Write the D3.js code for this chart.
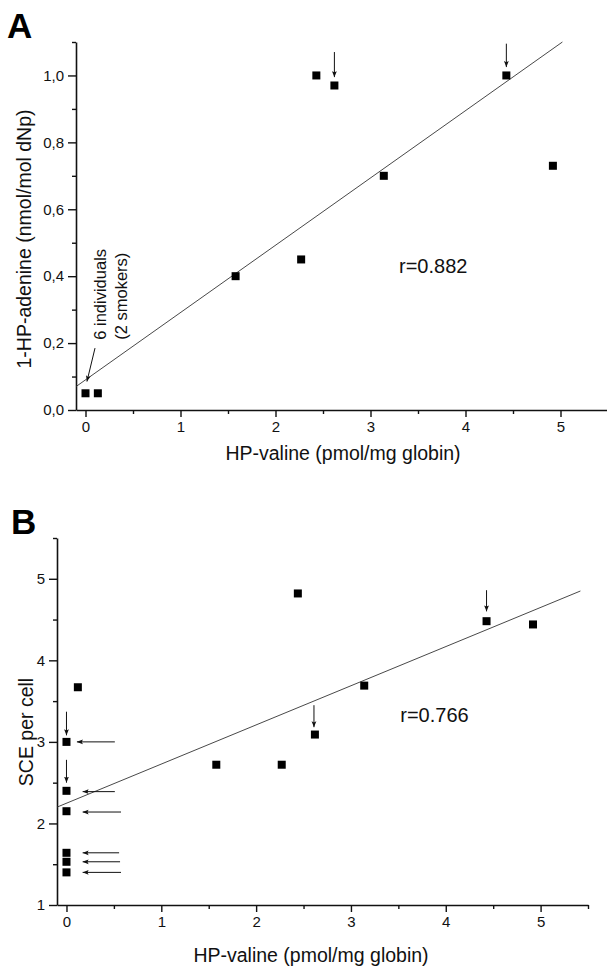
<!DOCTYPE html>
<html>
<head>
<meta charset="utf-8">
<script src="https://cdn.jsdelivr.net/npm/d3@7"></script>
<style>
  html, body { margin: 0; padding: 0; background: #fff; }
  svg { display: block; font-family: "Liberation Sans", Arial, Helvetica, sans-serif; }
</style>
</head>
<body>
<svg id="chart" width="607" height="971"></svg>
<script>
// ---------------- DATA ----------------
// Panel A: HP-valine (pmol/mg globin) vs 1-HP-adenine (nmol/mol dNp)
const hpValineA   = [0.00, 0.13, 1.58, 2.27, 2.43, 2.62, 3.14, 4.43, 4.92];
const hpAdenineA  = [0.05, 0.05, 0.40, 0.45, 1.00, 0.97, 0.70, 1.00, 0.73];
const regressionA = [[-0.1, 0.07], [5.02, 1.10]];   // fitted line end points
const rLabelA = "r=0.882";

// Panel B: HP-valine (pmol/mg globin) vs SCE per cell
const hpValineB = [0.00, 0.00, 0.00, 0.00, 0.00, 0.00, 0.12, 1.58, 2.27, 2.44, 2.62, 3.14, 4.43, 4.92];
const scePerCell = [3.00, 2.40, 2.15, 1.64, 1.53, 1.40, 3.67, 2.72, 2.72, 4.82, 3.09, 3.69, 4.48, 4.44];
const regressionB = [[-0.1, 2.20], [5.42, 4.85]];
const rLabelB = "r=0.766";

// axis ticks
const xTicks = [0, 1, 2, 3, 4, 5];
const xMinorTicks = [0.5, 1.5, 2.5, 3.5, 4.5, 5.5];
const yTicksA = [0.0, 0.2, 0.4, 0.6, 0.8, 1.0];
const yMinorTicksA = [0.1, 0.3, 0.5, 0.7, 0.9, 1.1];
const yTicksB = [1, 2, 3, 4, 5];
const yMinorTicksB = [1.5, 2.5, 3.5, 4.5, 5.5];

// annotation arrows [x1, y1, x2, y2] in data units
const arrowsA = [
  [2.62, 1.07, 2.62, 0.995],
  [4.43, 1.095, 4.43, 1.025],
  [0.10, 0.185, 0.015, 0.085]
];
const arrowsB = [
  [0.00, 3.37, 0.00, 3.08],
  [0.00, 2.78, 0.00, 2.50],
  [2.61, 3.45, 2.61, 3.18],
  [4.43, 4.86, 4.43, 4.60],
  [0.51, 3.00, 0.11, 3.00],
  [0.51, 2.39, 0.17, 2.39],
  [0.575, 2.14, 0.17, 2.14],
  [0.555, 1.64, 0.17, 1.64],
  [0.565, 1.53, 0.17, 1.53],
  [0.575, 1.40, 0.17, 1.40]
];
const noteA = ["6 individuals", "(2 smokers)"];

// ---------------- DRAW ----------------
const svg = d3.select("#chart");
const defs = svg.append("defs");
defs.append("marker")
  .attr("id", "head")
  .attr("viewBox", "0 0 10 10")
  .attr("refX", 10).attr("refY", 5)
  .attr("markerWidth", 6).attr("markerHeight", 7)
  .attr("markerUnits", "userSpaceOnUse")
  .attr("orient", "auto")
  .append("path").attr("d", "M0,1 L10,5 L0,9 L2,5 Z").attr("fill", "#111");

function panel(cfg) {
  const g = svg.append("g");
  const x = cfg.x, y = cfg.y;
  const x0 = x.range()[0], y0 = y.range()[0];

  // minor ticks
  g.append("g").attr("transform", `translate(0,${y0})`)
    .call(d3.axisBottom(x).tickValues(xMinorTicks).tickSize(4).tickSizeOuter(0).tickFormat(""))
    .call(s => s.select(".domain").remove());
  g.append("g").attr("transform", `translate(${x0},0)`)
    .call(d3.axisLeft(y).tickValues(cfg.yMinor).tickSize(4).tickSizeOuter(0).tickFormat(""))
    .call(s => s.select(".domain").remove());

  // major axes
  g.append("g").attr("transform", `translate(0,${y0})`)
    .call(d3.axisBottom(x).tickValues(xTicks).tickSize(7).tickSizeOuter(0).tickPadding(4).tickFormat(d3.format("d")));
  g.append("g").attr("transform", `translate(${x0},0)`)
    .call(d3.axisLeft(y).tickValues(cfg.yTicks).tickSize(8).tickSizeOuter(0).tickPadding(4).tickFormat(cfg.yFormat));
  g.selectAll(".tick text").attr("font-size", 15).attr("fill", "#111")
    .attr("font-family", "'Liberation Sans', Arial, sans-serif");
  g.selectAll(".tick line").attr("stroke", "#111").attr("stroke-width", 1.4);
  g.selectAll(".domain").attr("stroke", "#111").attr("stroke-width", 1.6);

  // regression line
  g.append("path")
    .attr("d", d3.line().x(d => x(d[0])).y(d => y(d[1]))(cfg.reg))
    .attr("fill", "none").attr("stroke", "#333").attr("stroke-width", 0.9);

  // points
  g.selectAll("rect.pt").data(cfg.xs.map((v, i) => [v, cfg.ys[i]]))
    .enter().append("rect").attr("class", "pt")
    .attr("x", d => x(d[0]) - 4).attr("y", d => y(d[1]) - 4)
    .attr("width", 8).attr("height", 8).attr("fill", "#000");

  // arrows
  g.selectAll("line.arr").data(cfg.arrows).enter().append("line").attr("class", "arr")
    .attr("x1", d => x(d[0])).attr("y1", d => y(d[1]))
    .attr("x2", d => x(d[2])).attr("y2", d => y(d[3]))
    .attr("stroke", "#111").attr("stroke-width", 1)
    .attr("marker-end", "url(#head)");

  // r label
  g.append("text").attr("x", x(cfg.rPos[0])).attr("y", y(cfg.rPos[1]))
    .attr("font-size", 20).attr("fill", "#111").text(cfg.rLabel);

  // panel letter
  g.append("text").attr("x", cfg.letterPos[0]).attr("y", cfg.letterPos[1])
    .attr("font-size", 35).attr("font-weight", "bold").attr("fill", "#000").text(cfg.letter);

  // axis titles
  g.append("text").attr("x", cfg.xTitlePos[0]).attr("y", cfg.xTitlePos[1])
    .attr("text-anchor", "middle").attr("font-size", 19.5).attr("fill", "#111")
    .text("HP-valine (pmol/mg globin)");
  g.append("text")
    .attr("transform", `translate(${cfg.yTitlePos[0]},${cfg.yTitlePos[1]}) rotate(-90)`)
    .attr("text-anchor", "middle").attr("font-size", 19.5).attr("fill", "#111")
    .text(cfg.yTitle);
  return g;
}

const xA = d3.scaleLinear().domain([-0.1, 5.5]).range([76, 608]);
const yA = d3.scaleLinear().domain([0, 1.1]).range([410, 42]);
const gA = panel({
  x: xA, y: yA, xs: hpValineA, ys: hpAdenineA, reg: regressionA,
  yTicks: yTicksA, yMinor: yMinorTicksA, yFormat: d => d3.format(".1f")(d).replace(".", ","),
  arrows: arrowsA, rLabel: rLabelA, rPos: [3.30, 0.41],
  letter: "A", letterPos: [7, 38],
  xTitlePos: [343, 460], yTitlePos: [31, 239], yTitle: "1-HP-adenine (nmol/mol dNp)"
});
// note text in panel A
const noteG = gA.append("text")
  .attr("transform", `translate(${xA(0.22)},${yA(0.21)}) rotate(-90)`)
  .attr("font-size", 16.5).attr("fill", "#111");
noteG.selectAll("tspan").data(noteA).enter().append("tspan")
  .attr("x", 0).attr("dy", (d, i) => i === 0 ? 0 : 21).text(d => d);

const xB = d3.scaleLinear().domain([-0.1, 5.5]).range([57, 588]);
const yB = d3.scaleLinear().domain([1, 5.5]).range([905, 538]);
panel({
  x: xB, y: yB, xs: hpValineB, ys: scePerCell, reg: regressionB,
  yTicks: yTicksB, yMinor: yMinorTicksB, yFormat: d3.format("d"),
  arrows: arrowsB, rLabel: rLabelB, rPos: [3.52, 3.24],
  letter: "B", letterPos: [11, 534],
  xTitlePos: [311, 962], yTitlePos: [33, 732], yTitle: "SCE per cell"
});
</script>
</body>
</html>
